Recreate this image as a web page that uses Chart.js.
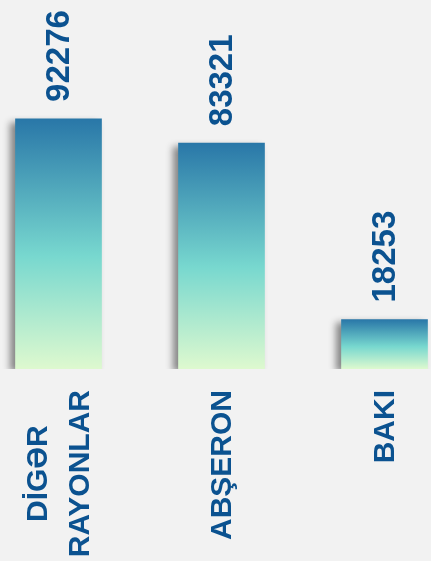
<!DOCTYPE html>
<html>
<head>
<meta charset="utf-8">
<script src="https://cdn.jsdelivr.net/npm/chart.js"></script>
<style>
  html, body { margin: 0; padding: 0; background: #f2f2f2; overflow: hidden; }
  #wrap { position: absolute; left: -23px; top: 0; width: 489px; height: 561px; }
</style>
</head>
<body>
<div id="wrap"><canvas id="barChart"></canvas></div>
<script>
// data
var categories = [['DİGƏR', 'RAYONLAR'], ['ABŞERON'], ['BAKI']];
var values = [92276, 83321, 18253];

var textColor = '#0b5290';
var labelFont = 'bold 33px "Liberation Sans", Arial, sans-serif';
var catFont = 'bold 30px "Liberation Sans", Arial, sans-serif';

function barGradient(context) {
    var chart = context.chart;
    if (!chart.chartArea) return '#2a78a8';
    var y = chart.scales.y;
    var top = y.getPixelForValue(values[context.dataIndex]);
    var bottom = y.getPixelForValue(0);
    var g = chart.ctx.createLinearGradient(0, top, 0, bottom);
    g.addColorStop(0, '#2977a8');
    g.addColorStop(0.55, '#78d8cf');
    g.addColorStop(1, '#def9cf');
    return g;
}

// drop shadow for the bars
var shadowPlugin = {
    id: 'barShadow',
    beforeDatasetDraw: function(chart) {
        var ctx = chart.ctx;
        ctx.save();
        ctx.shadowColor = 'rgba(0,0,0,0.45)';
        ctx.shadowBlur = 7;
        ctx.shadowOffsetX = -5;
        ctx.shadowOffsetY = 3;
    },
    afterDatasetDraw: function(chart) {
        chart.ctx.restore();
    }
};

// rotated value labels above bars and category labels below
var labelPlugin = {
    id: 'rotLabels',
    afterDraw: function(chart) {
        var ctx = chart.ctx;
        var meta = chart.getDatasetMeta(0);
        var xs = chart.scales.x;
        var bottom = chart.scales.y.getPixelForValue(0);
        ctx.save();
        ctx.fillStyle = textColor;
        meta.data.forEach(function(bar, i) {
            ctx.save();
            ctx.translate(bar.x, bar.y - 17);
            ctx.rotate(-Math.PI / 2);
            ctx.font = labelFont;
            ctx.textAlign = 'left';
            ctx.textBaseline = 'middle';
            ctx.fillText(String(values[i]), 0, 1);
            ctx.restore();

            var lines = categories[i];
            var cx = xs.getPixelForValue(i);
            ctx.save();
            ctx.translate(cx, bottom + 21);
            ctx.rotate(-Math.PI / 2);
            ctx.font = catFont;
            var maxW = 0;
            lines.forEach(function(l) { maxW = Math.max(maxW, ctx.measureText(l).width); });
            ctx.textAlign = 'center';
            ctx.textBaseline = 'middle';
            lines.forEach(function(l, j) {
                ctx.fillText(l, -maxW / 2, (j - (lines.length - 1) / 2) * 42.5 + 1);
            });
            ctx.restore();
        });
        ctx.restore();
    }
};

new Chart(document.getElementById('barChart'), {
    type: 'bar',
    data: {
        labels: categories,
        datasets: [{
            data: values,
            backgroundColor: barGradient,
            borderWidth: 0,
            barThickness: 86
        }]
    },
    options: {
        responsive: true,
        maintainAspectRatio: false,
        animation: false,
        layout: { padding: { top: 98, bottom: 192, left: 0, right: 0 } },
        plugins: { legend: { display: false }, tooltip: { enabled: false } },
        scales: {
            x: { display: false, grid: { display: false } },
            y: { display: false, min: 0, max: 100000 }
        }
    },
    plugins: [shadowPlugin, labelPlugin]
});
</script>
</body>
</html>
